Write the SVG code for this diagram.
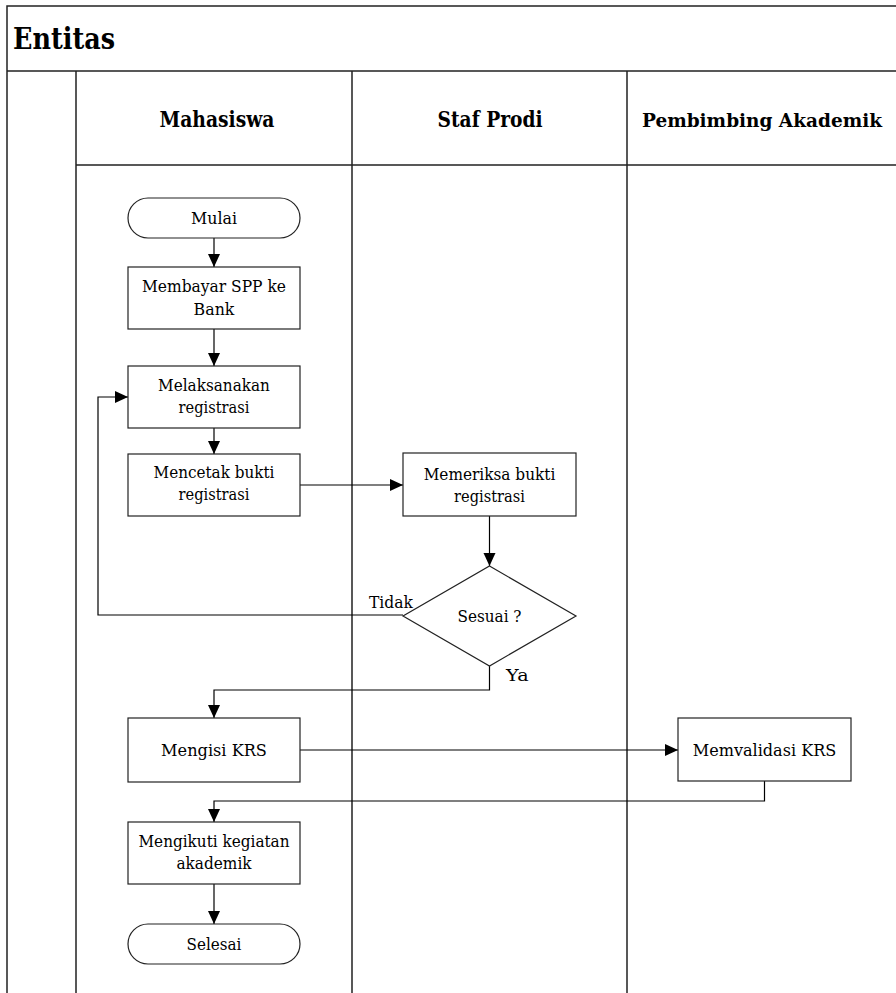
<svg xmlns="http://www.w3.org/2000/svg" width="896" height="993" viewBox="0 0 896 993">
<style>
.frame{stroke:#222;stroke-width:1.5;fill:none}
.box{fill:#fff;stroke:#222;stroke-width:1.2}
.conn{fill:none;stroke:#000;stroke-width:1.2}
text{font-family:'DejaVu Serif',serif;fill:#000}
.t{font-size:17.5px;text-anchor:middle}
.lbl{font-size:17.5px}
.h{font-weight:bold;font-size:21.5px;text-anchor:middle}
.title{font-weight:bold;font-size:30px}
</style>
<defs>
<marker id="arr" markerUnits="userSpaceOnUse" markerWidth="14" markerHeight="13" refX="13" refY="6" orient="auto">
<path d="M0,0 L13,6 L0,12 Z" fill="#000"/>
</marker>
</defs>
<rect width="896" height="993" fill="#fff"/>
<g id="frame">
<path class="frame" d="M7,993 V6 H896 M7,71 H896 M76,71 V993 M352,71 V993 M627,71 V993 M76,165 H896"/>
<text class="title" x="13" y="49" textLength="102" lengthAdjust="spacingAndGlyphs">Entitas</text>
<text class="h" x="217" y="127" textLength="115" lengthAdjust="spacingAndGlyphs">Mahasiswa</text>
<text class="h" x="490" y="127" textLength="105" lengthAdjust="spacingAndGlyphs">Staf Prodi</text>
<text class="h" x="762" y="127" style="font-size:18.5px" textLength="240" lengthAdjust="spacingAndGlyphs">Pembimbing Akademik</text>
</g>
<g id="connectors">
<path class="conn" d="M214,238 V267" marker-end="url(#arr)"/>
<path class="conn" d="M214,329 V366" marker-end="url(#arr)"/>
<path class="conn" d="M214,428 V454" marker-end="url(#arr)"/>
<path class="conn" d="M300,485 H403" marker-end="url(#arr)"/>
<path class="conn" d="M489.5,516 V566" marker-end="url(#arr)"/>
<path class="conn" d="M403,615 H98 V397 H128" marker-end="url(#arr)"/>
<path class="conn" d="M489.5,666 V690 H214 V718" marker-end="url(#arr)"/>
<path class="conn" d="M300,750 H678" marker-end="url(#arr)"/>
<path class="conn" d="M764.5,781 V801 H214 V822" marker-end="url(#arr)"/>
<path class="conn" d="M214,884 V924" marker-end="url(#arr)"/>
<text class="lbl" x="369" y="608" textLength="44" lengthAdjust="spacingAndGlyphs">Tidak</text>
<text class="lbl" x="506" y="681" textLength="22.6" lengthAdjust="spacingAndGlyphs">Ya</text>
</g>
<g id="mulai">
<rect class="box" x="128" y="198" width="172" height="40" rx="20"/>
<text class="t" x="214" y="224" textLength="46" lengthAdjust="spacingAndGlyphs">Mulai</text>
</g>
<g id="membayar">
<rect class="box" x="128" y="267" width="172" height="62"/>
<text class="t" x="214" y="292" textLength="144" lengthAdjust="spacingAndGlyphs">Membayar SPP ke</text>
<text class="t" x="214" y="315" textLength="40.8" lengthAdjust="spacingAndGlyphs">Bank</text>
</g>
<g id="melaksanakan">
<rect class="box" x="128" y="366" width="172" height="62"/>
<text class="t" x="214" y="391" textLength="111.8" lengthAdjust="spacingAndGlyphs">Melaksanakan</text>
<text class="t" x="214" y="413" textLength="70.9" lengthAdjust="spacingAndGlyphs">registrasi</text>
</g>
<g id="mencetak">
<rect class="box" x="128" y="454" width="172" height="62"/>
<text class="t" x="214" y="478" textLength="120.9" lengthAdjust="spacingAndGlyphs">Mencetak bukti</text>
<text class="t" x="214" y="500" textLength="70.9" lengthAdjust="spacingAndGlyphs">registrasi</text>
</g>
<g id="memeriksa">
<rect class="box" x="403" y="453" width="173" height="63"/>
<text class="t" x="489.5" y="480" textLength="131.7" lengthAdjust="spacingAndGlyphs">Memeriksa bukti</text>
<text class="t" x="489.5" y="502" textLength="70.9" lengthAdjust="spacingAndGlyphs">registrasi</text>
</g>
<g id="sesuai">
<polygon class="box" points="489.5,566 576,616 489.5,666 403,616"/>
<text class="t" x="489.5" y="622" textLength="64" lengthAdjust="spacingAndGlyphs">Sesuai ?</text>
</g>
<g id="mengisi">
<rect class="box" x="128" y="718" width="172" height="64"/>
<text class="t" x="214" y="756" textLength="105.9" lengthAdjust="spacingAndGlyphs">Mengisi KRS</text>
</g>
<g id="memvalidasi">
<rect class="box" x="678" y="718" width="173" height="63"/>
<text class="t" x="764.5" y="756" textLength="143.5" lengthAdjust="spacingAndGlyphs">Memvalidasi KRS</text>
</g>
<g id="mengikuti">
<rect class="box" x="128" y="822" width="172" height="62"/>
<text class="t" x="214" y="847" textLength="151" lengthAdjust="spacingAndGlyphs">Mengikuti kegiatan</text>
<text class="t" x="214" y="869" textLength="75.2" lengthAdjust="spacingAndGlyphs">akademik</text>
</g>
<g id="selesai">
<rect class="box" x="128" y="924" width="172" height="40" rx="20"/>
<text class="t" x="214" y="950" textLength="54.8" lengthAdjust="spacingAndGlyphs">Selesai</text>
</g>
</svg>
